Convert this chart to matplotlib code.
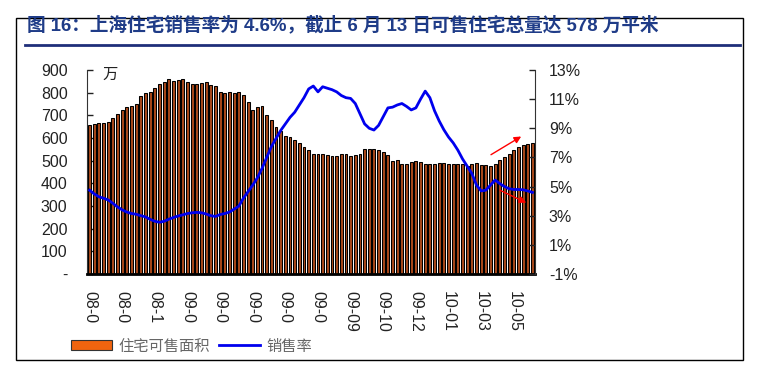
import matplotlib
matplotlib.use("Agg")
import matplotlib.pyplot as plt
from matplotlib.patches import Rectangle, Patch
from matplotlib.lines import Line2D
import numpy as np

plt.rcParams['font.family'] = ['Liberation Sans', 'Noto Sans CJK SC', 'DejaVu Sans']

# ---- data ----
stock = [657, 660, 665, 668, 670, 690, 705, 725, 735, 740,
         748, 785, 800, 805, 820, 840, 845, 862, 850, 858,
         862, 845, 840, 840, 842, 846, 833, 830, 805, 800,
         803, 800, 805, 790, 760, 725, 735, 740, 700, 680,
         650, 630, 610, 605, 590, 578, 560, 545, 530, 530,
         528, 525, 520, 522, 530, 528, 520, 525, 530, 550,
         552, 550, 548, 540, 525, 500, 502, 485, 485, 495,
         500, 495, 485, 485, 485, 488, 490, 485, 485, 485,
         485, 475, 485, 488, 482, 480, 478, 485, 505, 515,
         530, 545, 560, 568, 575, 578]
rate = [4.75, 4.5, 4.3, 4.2, 4.08, 3.85, 3.6, 3.4, 3.25, 3.15,
        3.1, 3.0, 2.92, 2.75, 2.62, 2.55, 2.62, 2.76, 2.88, 2.98,
        3.06, 3.15, 3.2, 3.23, 3.2, 3.12, 3.0, 2.95, 3.08, 3.15,
        3.25, 3.45, 3.65, 4.2, 4.65, 5.1, 5.6, 6.25, 7.0, 7.74,
        8.3, 8.85, 9.3, 9.75, 10.1, 10.6, 11.1, 11.7, 11.9, 11.5,
        11.85, 11.75, 11.65, 11.5, 11.25, 11.1, 11.05, 10.7, 10.0, 9.3,
        9.0, 8.88, 9.2, 9.8, 10.4, 10.45, 10.6, 10.7, 10.5, 10.26,
        10.4, 11.0, 11.55, 11.1, 10.2, 9.5, 8.9, 8.4, 8.0, 7.5,
        6.9, 6.4, 5.9, 5.1, 4.7, 4.75, 5.1, 5.45, 5.2, 5.0,
        4.85, 4.8, 4.8, 4.78, 4.7, 4.6]
xlabels = ["08-0", "08-0", "08-1", "09-0", "09-0", "09-0", "09-0", "09-0",
           "09-09", "09-10", "09-12", "10-01", "10-03", "10-05"]
left_ticks = [0, 100, 200, 300, 400, 500, 600, 700, 800, 900]
right_ticks = [-1, 1, 3, 5, 7, 9, 11, 13]
title = "图 16：上海住宅销售率为 4.6%，截止 6 月 13 日可售住宅总量达 578 万平米"
unit = "万"
series_names = ["住宅可售面积", "销售率"]

# ---- figure ----
W, H = 758, 383
fig = plt.figure(figsize=(W / 100, H / 100), dpi=100)

def fx(px):
    return px / W

def fy(py):
    return 1 - py / H

# outer frame
fig.add_artist(Rectangle((fx(16), fy(360)), fx(743) - fx(16), fy(18) - fy(360),
                         transform=fig.transFigure, fill=False, edgecolor='black', lw=1.0))
# title + underline
fig.text(fx(27), fy(25), title, fontsize=13.4, fontweight='bold', color='#1F3C88',
         ha='left', va='center', family=['Liberation Sans', 'Noto Sans CJK SC'])
fig.add_artist(Line2D([fx(25), fx(740)], [fy(45), fy(45)], transform=fig.transFigure,
                      color='#1F2F7A', lw=2.0))

ax = fig.add_axes([fx(87), fy(274), fx(535) - fx(87), fy(70) - fy(274)])
x = np.arange(len(stock))
ax.bar(x, stock, width=0.62, color='#A8481A', edgecolor='black', linewidth=0.75, zorder=2)
ax.set_xlim(-0.55, len(stock) - 0.45)
ax.set_ylim(0, 900)
ax.set_yticks(left_ticks)
ax.set_yticklabels(['-' if v == 0 else str(v) for v in left_ticks])
ax.tick_params(axis='y', direction='in', length=4, width=1, labelsize=11.5, pad=14,
               colors='#222222')
ax.set_xticks(x[::7])
ax.set_xticklabels(xlabels, rotation=-90, fontsize=11.5, color='#222222')
ax.tick_params(axis='x', length=0, pad=12)
for s in ['top', 'right']:
    ax.spines[s].set_visible(False)
ax.spines['left'].set_color('#333333')
ax.spines['bottom'].set_linewidth(2.0)
ax.text(13 / 4.663, 880, unit, fontsize=11, ha='left', va='center', color='#222222',
        family=['Noto Sans CJK SC'])

ax2 = ax.twinx()
ax2.plot(x, rate, color='#0000EE', lw=2.0, zorder=3)
ax2.set_ylim(-1, 13)
ax2.set_yticks(right_ticks)
ax2.set_yticklabels([f"{v}%" for v in right_ticks])
ax2.tick_params(axis='y', direction='in', length=4, width=1, labelsize=11.5, pad=10,
                colors='#222222')
for s in ['top', 'left', 'bottom']:
    ax2.spines[s].set_visible(False)
ax2.spines['right'].set_color('#333333')

# red arrows
ax.annotate('', xy=(93.1, 613), xytext=(85.6, 520),
            arrowprops=dict(arrowstyle='-|>', color='red', lw=1.0, mutation_scale=10))
ax.annotate('', xy=(94.2, 309), xytext=(87.5, 375),
            arrowprops=dict(arrowstyle='-|>', color='red', lw=1.0, mutation_scale=10))

handles = [Patch(facecolor='#F0640F', edgecolor='#333333', lw=0.8),
           Line2D([0], [0], color='#0000EE', lw=2.0)]
fig.legend(handles, series_names, loc='center left', bbox_to_anchor=(fx(57), fy(346)),
           ncol=2, frameon=False, handlelength=2.7, handleheight=0.6,
           handletextpad=0.4, columnspacing=0.6, labelcolor='#666666',
           prop={'family': ['Noto Sans CJK SC'], 'size': 11})

fig.savefig('out.png', dpi=100)
